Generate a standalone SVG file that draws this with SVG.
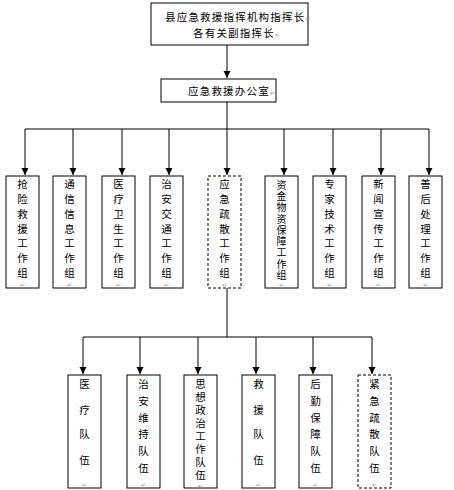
<svg xmlns="http://www.w3.org/2000/svg" width="454" height="490" viewBox="0 0 454 490">
<defs>
<marker id="arr" markerUnits="userSpaceOnUse" markerWidth="8" markerHeight="8" refX="7" refY="3.5" orient="auto">
<path d="M0,0 L7,3.5 L0,7 Z" fill="#000"/>
</marker>
<style>
.box{fill:#fff;stroke:#000;stroke-width:1}
.dash{fill:#fff;stroke:#000;stroke-width:1;stroke-dasharray:3,2}
.t{font-family:"Noto Sans CJK SC","Noto Sans",sans-serif;font-size:10.5px;fill:#000}
.v{font-family:"Noto Sans CJK SC","Noto Sans",sans-serif;font-size:10.5px;fill:#000;text-anchor:middle}
.vw{font-family:"Noto Sans CJK SC","Noto Sans",sans-serif;font-size:10px;fill:#000;writing-mode:vertical-rl;letter-spacing:1.25px}
.vw2{font-family:"Noto Sans CJK SC","Noto Sans",sans-serif;font-size:10.5px;fill:#000;writing-mode:vertical-rl;letter-spacing:2.5px}
.pm{font-family:"DejaVu Sans",sans-serif;font-size:6px;fill:#999;text-anchor:middle}
.c{fill:none;stroke:#000;stroke-width:1}
</style>
</defs>
<rect width="454" height="490" fill="#fff"/>
<g id="connectors">
<line class="c" x1="227" y1="45" x2="227" y2="78" marker-end="url(#arr)"/>
<line class="c" x1="227" y1="102" x2="227" y2="129"/>
<line class="c" x1="25" y1="129" x2="429" y2="129"/>
<line class="c" x1="25" y1="129" x2="25" y2="175" marker-end="url(#arr)"/>
<line class="c" x1="73" y1="129" x2="73" y2="175" marker-end="url(#arr)"/>
<line class="c" x1="122" y1="129" x2="122" y2="175" marker-end="url(#arr)"/>
<line class="c" x1="169" y1="129" x2="169" y2="175" marker-end="url(#arr)"/>
<line class="c" x1="227" y1="129" x2="227" y2="175" marker-end="url(#arr)"/>
<line class="c" x1="284" y1="129" x2="284" y2="175" marker-end="url(#arr)"/>
<line class="c" x1="333" y1="129" x2="333" y2="175" marker-end="url(#arr)"/>
<line class="c" x1="381" y1="129" x2="381" y2="175" marker-end="url(#arr)"/>
<line class="c" x1="429" y1="129" x2="429" y2="175" marker-end="url(#arr)"/>
<line class="c" x1="227" y1="288" x2="227" y2="337"/>
<line class="c" x1="83" y1="337" x2="372" y2="337"/>
<line class="c" x1="83" y1="337" x2="83" y2="374" marker-end="url(#arr)"/>
<line class="c" x1="140" y1="337" x2="140" y2="374" marker-end="url(#arr)"/>
<line class="c" x1="198" y1="337" x2="198" y2="374" marker-end="url(#arr)"/>
<line class="c" x1="256" y1="337" x2="256" y2="374" marker-end="url(#arr)"/>
<line class="c" x1="313" y1="337" x2="313" y2="374" marker-end="url(#arr)"/>
<line class="c" x1="372" y1="337" x2="372" y2="374" marker-end="url(#arr)"/>
</g>
<g id="commander">
<rect class="box" x="151" y="3" width="157" height="42"/>
<text class="t" x="165" y="21" letter-spacing="1.2">县应急救援指挥机构指挥长<tspan class="pm" style="text-anchor:start">↵</tspan></text>
<text class="t" x="193" y="37" letter-spacing="1.2">各有关副指挥长<tspan class="pm" style="text-anchor:start">↵</tspan></text>
</g>
<g id="office">
<rect class="box" x="161" y="79" width="115" height="23"/>
<text class="t" x="188" y="95" letter-spacing="1.2">应急救援办公室<tspan class="pm" style="text-anchor:start">↵</tspan></text>
</g>
<g id="g1">
<rect class="box" x="6" y="176" width="33" height="112"/>
<text class="v"><tspan x="22.5" y="188">抢</tspan><tspan x="22.5" y="203">险</tspan><tspan x="22.5" y="218">救</tspan><tspan x="22.5" y="233">援</tspan><tspan x="22.5" y="247">工</tspan><tspan x="22.5" y="262">作</tspan><tspan x="22.5" y="277">组</tspan></text>
<text class="pm" x="22.5" y="287">↵</text>
</g>
<g id="g2">
<rect class="box" x="53" y="176" width="33" height="112"/>
<text class="v"><tspan x="69.5" y="188">通</tspan><tspan x="69.5" y="203">信</tspan><tspan x="69.5" y="218">信</tspan><tspan x="69.5" y="233">息</tspan><tspan x="69.5" y="247">工</tspan><tspan x="69.5" y="262">作</tspan><tspan x="69.5" y="277">组</tspan></text>
<text class="pm" x="69.5" y="287">↵</text>
</g>
<g id="g3">
<rect class="box" x="102" y="176" width="33" height="112"/>
<text class="v"><tspan x="118.5" y="188">医</tspan><tspan x="118.5" y="203">疗</tspan><tspan x="118.5" y="218">卫</tspan><tspan x="118.5" y="233">生</tspan><tspan x="118.5" y="247">工</tspan><tspan x="118.5" y="262">作</tspan><tspan x="118.5" y="277">组</tspan></text>
<text class="pm" x="118.5" y="287">↵</text>
</g>
<g id="g4">
<rect class="box" x="150" y="176" width="33" height="112"/>
<text class="v"><tspan x="166.5" y="188">治</tspan><tspan x="166.5" y="203">安</tspan><tspan x="166.5" y="218">交</tspan><tspan x="166.5" y="233">通</tspan><tspan x="166.5" y="247">工</tspan><tspan x="166.5" y="262">作</tspan><tspan x="166.5" y="277">组</tspan></text>
<text class="pm" x="166.5" y="287">↵</text>
</g>
<g id="g5">
<rect class="dash" x="208" y="176" width="33" height="112"/>
<text class="v"><tspan x="224.5" y="188">应</tspan><tspan x="224.5" y="203">急</tspan><tspan x="224.5" y="218">疏</tspan><tspan x="224.5" y="233">散</tspan><tspan x="224.5" y="247">工</tspan><tspan x="224.5" y="262">作</tspan><tspan x="224.5" y="277">组</tspan></text>
<text class="pm" x="224.5" y="287">↵</text>
</g>
<g id="g6">
<rect class="box" x="265" y="176" width="33" height="112"/>
<text class="vw" x="281.5" y="180">资金物资保障工作组</text>
<text class="pm" x="281.5" y="287">↵</text>
</g>
<g id="g7">
<rect class="box" x="313" y="176" width="33" height="112"/>
<text class="v"><tspan x="329.5" y="188">专</tspan><tspan x="329.5" y="203">家</tspan><tspan x="329.5" y="218">技</tspan><tspan x="329.5" y="233">术</tspan><tspan x="329.5" y="247">工</tspan><tspan x="329.5" y="262">作</tspan><tspan x="329.5" y="277">组</tspan></text>
<text class="pm" x="329.5" y="287">↵</text>
</g>
<g id="g8">
<rect class="box" x="362" y="176" width="33" height="112"/>
<text class="v"><tspan x="378.5" y="188">新</tspan><tspan x="378.5" y="203">闻</tspan><tspan x="378.5" y="218">宣</tspan><tspan x="378.5" y="233">传</tspan><tspan x="378.5" y="247">工</tspan><tspan x="378.5" y="262">作</tspan><tspan x="378.5" y="277">组</tspan></text>
<text class="pm" x="378.5" y="287">↵</text>
</g>
<g id="g9">
<rect class="box" x="409" y="176" width="33" height="112"/>
<text class="v"><tspan x="425.5" y="188">善</tspan><tspan x="425.5" y="203">后</tspan><tspan x="425.5" y="218">处</tspan><tspan x="425.5" y="233">理</tspan><tspan x="425.5" y="247">工</tspan><tspan x="425.5" y="262">作</tspan><tspan x="425.5" y="277">组</tspan></text>
<text class="pm" x="425.5" y="287">↵</text>
</g>
<g id="t1">
<rect class="box" x="68" y="375" width="33" height="113"/>
<text class="v"><tspan x="84.5" y="388">医</tspan><tspan x="84.5" y="414">疗</tspan><tspan x="84.5" y="438">队</tspan><tspan x="84.5" y="464">伍</tspan></text>
<text class="pm" x="84.5" y="487">↵</text>
</g>
<g id="t2">
<rect class="box" x="127" y="375" width="33" height="113"/>
<text class="v"><tspan x="143.5" y="388">治</tspan><tspan x="143.5" y="405">安</tspan><tspan x="143.5" y="422">维</tspan><tspan x="143.5" y="438">持</tspan><tspan x="143.5" y="455">队</tspan><tspan x="143.5" y="472">伍</tspan></text>
<text class="pm" x="143.5" y="487">↵</text>
</g>
<g id="t3">
<rect class="box" x="184" y="375" width="33" height="113"/>
<text class="vw2" x="200.5" y="379">思想政治工作队伍</text>
<text class="pm" x="200.5" y="488">↵</text>
</g>
<g id="t4">
<rect class="box" x="242" y="375" width="33" height="113"/>
<text class="v"><tspan x="258.5" y="388">救</tspan><tspan x="258.5" y="414">援</tspan><tspan x="258.5" y="438">队</tspan><tspan x="258.5" y="464">伍</tspan></text>
<text class="pm" x="258.5" y="487">↵</text>
</g>
<g id="t5">
<rect class="box" x="299" y="375" width="33" height="113"/>
<text class="v"><tspan x="315.5" y="388">后</tspan><tspan x="315.5" y="405">勤</tspan><tspan x="315.5" y="422">保</tspan><tspan x="315.5" y="438">障</tspan><tspan x="315.5" y="455">队</tspan><tspan x="315.5" y="472">伍</tspan></text>
<text class="pm" x="315.5" y="487">↵</text>
</g>
<g id="t6">
<rect class="dash" x="358" y="375" width="33" height="113"/>
<text class="v"><tspan x="374.5" y="388">紧</tspan><tspan x="374.5" y="405">急</tspan><tspan x="374.5" y="422">疏</tspan><tspan x="374.5" y="438">散</tspan><tspan x="374.5" y="455">队</tspan><tspan x="374.5" y="472">伍</tspan></text>
<text class="pm" x="374.5" y="487">↵</text>
</g>
</svg>
